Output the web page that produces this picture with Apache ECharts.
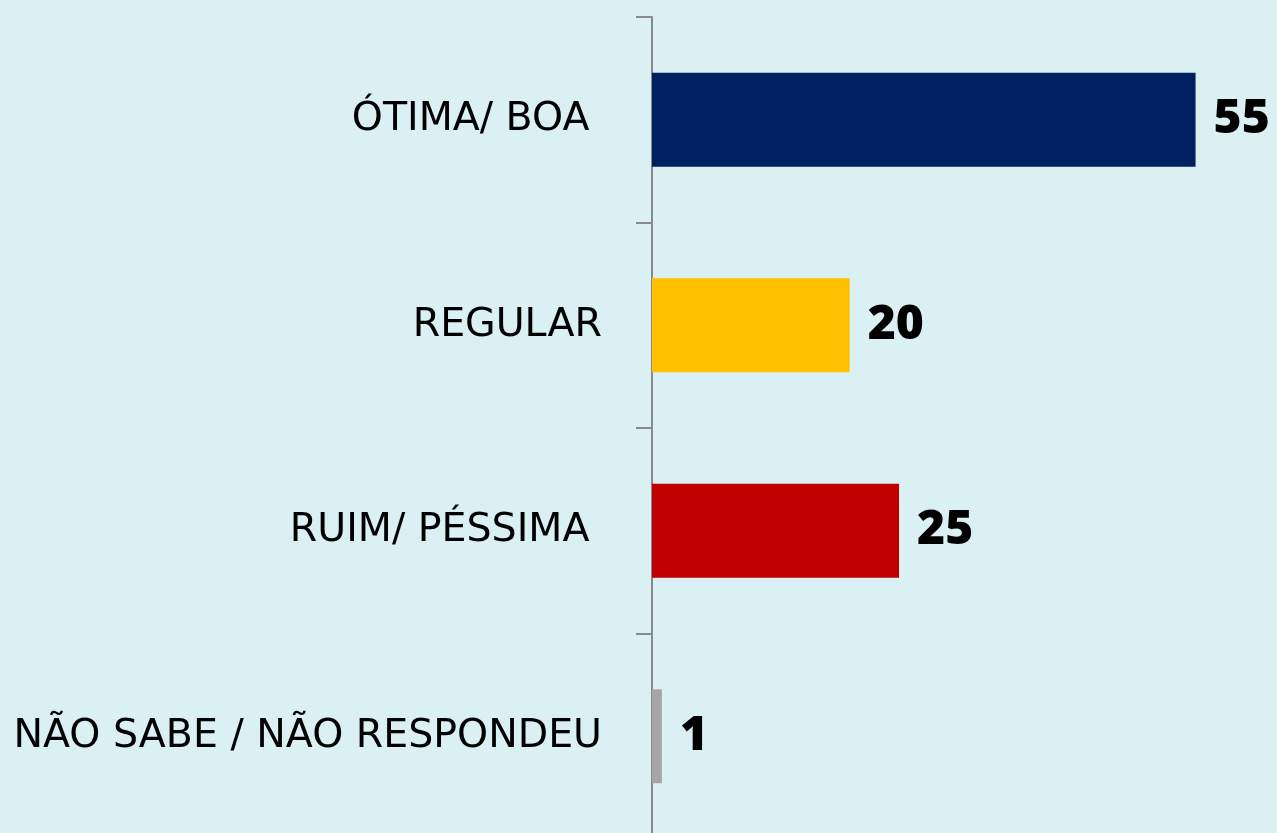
<!DOCTYPE html>
<html lang="pt">
<head>
    <meta charset="UTF-8">
    <script src="https://cdn.jsdelivr.net/npm/echarts@6/dist/echarts.min.js"></script>
    <title>Avaliação</title>
    <style>
        html, body { margin: 0; padding: 0; background: #daf0f3; }
    </style>
</head>
<body>
<div id="main" style="width: 1277px;height:833px;"></div>

<script type="text/javascript">
    // categorias e valores (%)
    var categories = ['ÓTIMA/ BOA ', 'REGULAR', 'RUIM/ PÉSSIMA ', 'NÃO SABE / NÃO RESPONDEU'];
    var values = [55, 20, 25, 1];
    var colors = ['#002060', '#ffc000', '#c00000', '#a6a6a6'];

    var myChart = echarts.init(document.getElementById('main'));

    var data = [];
    for (var i = 0; i < values.length; i++) {
        data.push({ value: values[i], itemStyle: { color: colors[i] } });
    }

    var option = {
        backgroundColor: '#daf0f3',
        animation: false,
        grid: {
            left: 652,
            width: 591,
            top: 17,
            height: 822,
            outerBoundsMode: 'none',
            containLabel: false
        },
        xAxis: {
            type: 'value',
            min: 0,
            max: 59.8,
            show: false
        },
        yAxis: {
            type: 'category',
            inverse: true,
            data: categories,
            axisLine: { show: true, lineStyle: { color: '#8a8a8a', width: 2 } },
            axisTick: { show: true, alignWithLabel: false, length: 16, lineStyle: { color: '#8a8a8a', width: 2 } },
            axisLabel: {
                margin: 50,
                color: '#000',
                fontFamily: 'DejaVu Sans',
                fontSize: 39.5
            }
        },
        series: [{
            type: 'bar',
            barWidth: 94,
            data: data,
            label: {
                show: true,
                position: 'right',
                distance: 18,
                color: '#000',
                fontFamily: 'Open Sans',
                fontWeight: 800,
                fontSize: 48
            }
        }]
    };
    myChart.setOption(option);
</script>
</body>
</html>
